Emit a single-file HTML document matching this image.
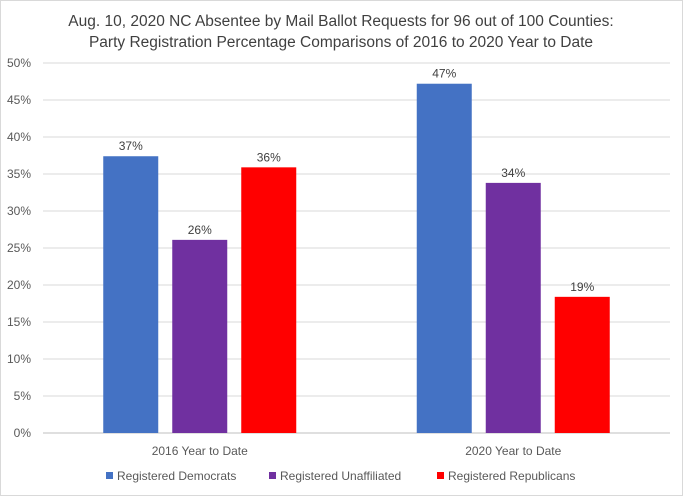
<!DOCTYPE html>
<html><head><meta charset="utf-8"><style>
body{margin:0;background:#fff;font-family:"Liberation Sans",Arial,sans-serif}
svg text{font-family:"Liberation Sans",Arial,sans-serif}
</style></head><body>
<svg id="chart" width="683" height="496" viewBox="0 0 683 496">
<rect x="0.5" y="0.5" width="682" height="495" fill="#fff" stroke="#d9d9d9"/>
<text x="341" y="26" text-anchor="middle" font-size="15.5" fill="#404040">Aug. 10, 2020 NC Absentee by Mail Ballot Requests for 96 out of 100 Counties:</text>
<text x="341" y="47" text-anchor="middle" font-size="15.5" fill="#404040">Party Registration Percentage Comparisons of 2016 to 2020 Year to Date</text>
<g id="grid"></g><g id="bars"></g><g id="labels"></g><g id="legend"></g>
</svg>
<script>
const categories=["2016 Year to Date","2020 Year to Date"];
const seriesNames=["Registered Democrats","Registered Unaffiliated","Registered Republicans"];
const democrats=[37.4,47.2];
const unaffiliated=[26.1,33.8];
const republicans=[35.9,18.4];
const valueLabels=[["37%","47%"],["26%","34%"],["36%","19%"]];
const ticks=[0,5,10,15,20,25,30,35,40,45,50];
const colors=["#4472c4","#7030a0","#ff0000"];
const series=[democrats,unaffiliated,republicans];
const NS="http://www.w3.org/2000/svg";
const x0=43,x1=670,y0=433,yTop=63,ymax=50;
const y=v=>y0-(v/ymax)*(y0-yTop);
const catW=(x1-x0)/categories.length;
const barW=55,gap=14;
function mk(t,a,p){const e=document.createElementNS(NS,t);for(const k in a)e.setAttribute(k,a[k]);p.appendChild(e);return e;}
const grid=document.getElementById('grid');
ticks.forEach(t=>{
 const l=mk('line',{x1:x0,x2:x1,y1:y(t),y2:y(t),stroke:t===0?'#bfbfbf':'#d9d9d9'},grid);
 
 
 const tx=mk('text',{x:31,y:y(t)+4,'text-anchor':'end','font-size':12,fill:'#595959'},grid);
 tx.textContent=t+'%';
 
 
});
const bars=document.getElementById('bars'),labels=document.getElementById('labels');
categories.forEach((c,i)=>{
 const cx=x0+catW*(i+0.5);
 const groupW=3*barW+2*gap;
 series.forEach((s,j)=>{
  const bx=cx-groupW/2+j*(barW+gap);
  const r=mk('rect',{x:bx,y:y(s[i]),width:barW,height:y0-y(s[i]),fill:colors[j]},bars);
  
  
  const t=mk('text',{x:bx+barW/2,y:y(s[i])-6,'text-anchor':'middle','font-size':12,fill:'#404040'},labels);
  t.textContent=valueLabels[j][i];
  
  
 });
 const ct=mk('text',{x:cx,y:455,'text-anchor':'middle','font-size':12,fill:'#595959'},labels);
 ct.textContent=c;
 
 
});
const lg=document.getElementById('legend');
const lx=[110,273,441];
seriesNames.forEach((n,j)=>{
 const r=mk('rect',{x:lx[j]-4,y:472,width:7,height:7,fill:colors[j]},lg);
 
 
 const t=mk('text',{x:lx[j]+7,y:480,'font-size':12,fill:'#595959'},lg);
 t.textContent=n;
 
 
});
</script>
</body></html>
